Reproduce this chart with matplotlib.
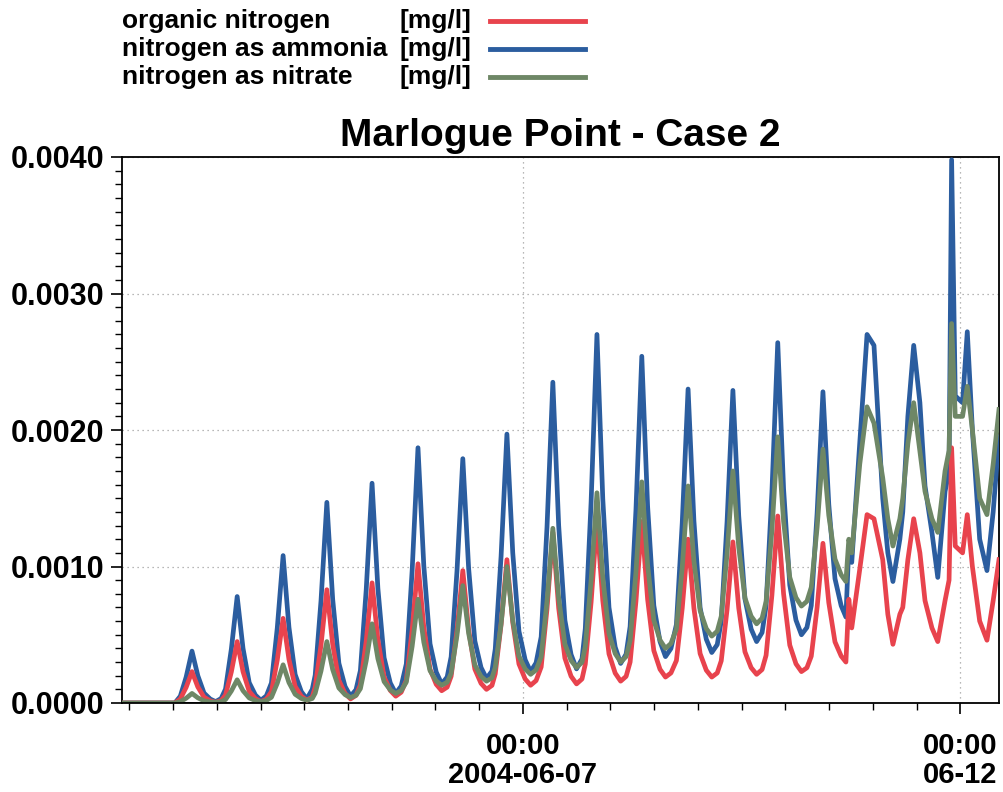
import numpy as np
import pandas as pd
import matplotlib
matplotlib.use("Agg")
import matplotlib.pyplot as plt
import matplotlib.dates as mdates
from matplotlib.lines import Line2D
from matplotlib.ticker import MultipleLocator, FormatStrFormatter

plt.rcParams['font.family'] = ['Liberation Sans', 'DejaVu Sans']
plt.rcParams['font.weight'] = 'bold'

# hours relative to 2004-06-07 00:00
hours = [
    -110, -95.5,
    -94.0, -92.4, -90.8, -89.2, -87.5, -85.8, -84.3, -82.8,
    -81.6, -80.0, -78.4, -76.8, -75.1, -73.4, -71.9, -70.4,
    -69.0, -67.4, -65.8, -64.2, -62.5, -60.8, -59.3, -57.8,
    -57.0, -55.4, -53.8, -52.2, -50.5, -48.8, -47.3, -45.8,
    -44.6, -43.0, -41.4, -39.8, -38.1, -36.4, -34.9, -33.4,
    -32.0, -30.4, -28.8, -27.2, -25.5, -23.8, -22.3, -20.8,
    -19.7, -18.1, -16.5, -14.9, -13.2, -11.5, -10.0, -8.5,
    -7.6, -6.0, -4.4, -2.8, -1.1, 0.6, 2.1, 3.6,
    5.0, 6.6, 8.2, 9.8, 11.5, 13.2, 14.7, 16.2,
    17.1, 18.7, 20.3, 21.9, 23.6, 25.3, 26.8, 28.3,
    29.4, 31.0, 32.6, 34.2, 35.9, 37.6, 39.1, 40.6,
    42.1, 43.7, 45.3, 46.9, 48.6, 50.3, 51.8, 53.3,
    54.4, 56.0, 57.6, 59.2, 60.9, 62.6, 64.1, 65.6,
    66.7, 68.3, 69.9, 71.5, 73.2, 74.9, 76.4, 77.9,
    79.1, 80.7, 82.3, 83.9, 85.6, 87.3, 88.6, 89.4, 90.2,
    92.4, 94.4, 96.3, 98.7, 100.1, 101.5,
    103.4, 104.2, 105.6, 107.2, 108.9, 110.3, 112.2, 113.8,
    115.8, 116.9, 117.6, 118.6, 120.6, 121.9, 123.3, 125.3, 127.3, 129.0, 130.6]

# concentrations in 1e-4 mg/l
ammonia = [
    0, 0,
    0.5, 1.9, 3.8, 2.0, 0.73, 0.29, 0.1, 0.33,
    1.02, 3.95, 7.8, 4.0, 1.49, 0.58, 0.2, 0.52,
    1.47, 5.5, 10.8, 5.55, 2.09, 0.83, 0.3, 1.0,
    2.03, 7.5, 14.7, 7.6, 2.91, 1.21, 0.5, 0.97,
    2.37, 8.3, 16.1, 8.4, 3.32, 1.47, 0.7, 1.24,
    2.86, 9.7, 18.7, 10.05, 4.34, 2.27, 1.4, 1.9,
    3.38, 9.65, 17.9, 9.85, 4.54, 2.6, 1.8, 2.34,
    3.95, 10.75, 19.7, 11.0, 5.26, 3.17, 2.3, 2.94,
    4.84, 12.9, 23.5, 13.0, 6.07, 3.55, 2.5, 3.23,
    5.44, 14.75, 27.0, 14.95, 7.0, 4.1, 2.9, 3.58,
    5.6, 14.15, 25.4, 14.4, 7.14, 4.5, 3.4, 3.99,
    5.75, 13.2, 23.0, 13.35, 6.98, 4.67, 3.7, 4.28,
    6.0, 13.3, 22.9, 13.7, 7.63, 5.42, 4.5, 5.16,
    7.13, 15.45, 26.4, 15.7, 8.64, 6.07, 5.0, 5.53,
    7.14, 13.9, 22.8, 14.55, 9.11, 7.13, 6.3, 11.5, 10.3,
    19.0, 27.0, 26.2, 15.0, 11.0, 8.9,
    12.0, 14.0, 21.0, 26.2, 22.0, 15.9, 12.5, 9.2,
    15.5, 17.0, 39.8, 22.5, 22.0, 27.2, 20.0, 12.0, 9.7, 14.0, 19.5]

nitrate = [
    0, 0,
    0.1, 0.35, 0.7, 0.38, 0.16, 0.08, 0.05, 0.1,
    0.25, 0.88, 1.7, 0.9, 0.37, 0.18, 0.1, 0.18,
    0.42, 1.45, 2.8, 1.5, 0.64, 0.33, 0.2, 0.33,
    0.72, 2.35, 4.5, 2.45, 1.1, 0.61, 0.4, 0.56,
    1.05, 3.1, 5.8, 3.25, 1.57, 0.96, 0.7, 0.91,
    1.53, 4.15, 7.6, 4.45, 2.37, 1.62, 1.3, 1.52,
    2.18, 4.95, 8.6, 5.1, 2.79, 1.95, 1.6, 1.85,
    2.61, 5.8, 10.0, 6.05, 3.44, 2.5, 2.1, 2.42,
    3.38, 7.45, 12.8, 7.7, 4.33, 3.11, 2.6, 2.98,
    4.14, 9.0, 15.4, 9.2, 5.11, 3.62, 3.0, 3.4,
    4.58, 9.6, 16.2, 10.1, 6.07, 4.61, 4.0, 4.36,
    5.43, 9.95, 15.9, 10.4, 6.77, 5.45, 4.9, 5.26,
    6.35, 10.95, 17.0, 11.4, 7.7, 6.36, 5.8, 6.21,
    7.44, 12.65, 19.5, 13.3, 9.21, 7.72, 7.1, 7.45,
    8.48, 12.85, 18.6, 13.75, 10.55, 9.39, 8.9, 12.0, 11.0,
    17.5, 21.7, 20.5, 16.5, 13.5, 11.5,
    13.5, 15.0, 19.0, 22.0, 18.4, 15.5, 13.5, 12.5,
    17.0, 18.5, 27.8, 21.0, 21.0, 23.2, 20.0, 15.0, 13.8, 17.5, 21.5]

organic = [
    0, 0,
    0.3, 1.15, 2.3, 1.18, 0.43, 0.16, 0.05, 0.18,
    0.58, 2.28, 4.5, 2.3, 0.85, 0.32, 0.1, 0.28,
    0.83, 3.15, 6.2, 3.2, 1.22, 0.5, 0.2, 0.44,
    1.17, 4.25, 8.3, 4.3, 1.66, 0.7, 0.3, 0.56,
    1.32, 4.55, 8.8, 4.65, 1.91, 0.92, 0.5, 0.79,
    1.66, 5.35, 10.2, 5.55, 2.48, 1.37, 0.9, 1.16,
    1.96, 5.3, 9.7, 5.35, 2.48, 1.44, 1.0, 1.29,
    2.14, 5.75, 10.5, 5.9, 2.86, 1.76, 1.3, 1.64,
    2.64, 6.9, 12.5, 6.95, 3.29, 1.96, 1.4, 1.76,
    2.84, 7.4, 13.4, 7.5, 3.6, 2.19, 1.6, 1.95,
    3.0, 7.45, 13.3, 7.6, 3.84, 2.47, 1.9, 2.2,
    3.11, 6.95, 12.0, 6.95, 3.62, 2.4, 1.9, 2.2,
    3.09, 6.85, 11.8, 6.95, 3.75, 2.59, 2.1, 2.45,
    3.49, 7.9, 13.7, 8.0, 4.24, 2.87, 2.3, 2.58,
    3.43, 7.0, 11.7, 7.35, 4.48, 3.44, 3.0, 7.6, 5.5,
    9.8, 13.8, 13.5, 10.5, 6.5, 4.3,
    6.5, 7.0, 10.5, 13.5, 11.0, 7.5, 5.5, 4.5,
    7.5, 9.0, 18.7, 11.5, 11.0, 13.8, 10.0, 6.0, 4.6, 7.5, 10.5]

# black series only visible at the start, sitting at zero
black_hours = [-110, -60]
black_vals = [0, 0]

labels = ["organic nitrogen", "nitrogen as ammonia", "nitrogen as nitrate"]
colors = ["#e8434d", "#2b5d9f", "#6e8766"]

t0 = pd.Timestamp("2004-06-07")
times = t0 + pd.to_timedelta(hours, unit="h")
btimes = t0 + pd.to_timedelta(black_hours, unit="h")
scale = 1e-4

fig = plt.figure(figsize=(10.04, 7.92), dpi=100)
ax = fig.add_axes([122 / 1004, 1 - 703 / 792, (999 - 122) / 1004, (703 - 157) / 792])

ax.plot(times, np.array(ammonia) * scale, color=colors[1], lw=3.4, zorder=3)
ax.plot(times, np.array(organic) * scale, color=colors[0], lw=3.4, zorder=4)
ax.plot(times, np.array(nitrate) * scale, color=colors[2], lw=3.4, zorder=5)
ax.plot(btimes, black_vals, color="black", lw=2, zorder=6)

ax.set_xlim(t0 + pd.Timedelta(hours=-110), t0 + pd.Timedelta(hours=130.6))
ax.set_ylim(0, 0.004)

ax.yaxis.set_major_locator(MultipleLocator(0.001))
ax.yaxis.set_minor_locator(MultipleLocator(0.0001))
ax.yaxis.set_major_formatter(FormatStrFormatter("%.4f"))

ax.xaxis.set_major_locator(mdates.DayLocator(bymonthday=[7, 12]))
ax.xaxis.set_minor_locator(mdates.HourLocator(byhour=[0, 12]))

def fmt_date(x, pos=None):
    d = mdates.num2date(x)
    if d.day == 7:
        return "00:00\n2004-06-07"
    return "00:00\n06-12"

ax.xaxis.set_major_formatter(plt.FuncFormatter(fmt_date))

ax.tick_params(axis="both", which="major", direction="out", length=8, width=1.2, pad=5)
ax.tick_params(axis="both", which="minor", direction="out", length=5, width=1.0)
ax.tick_params(axis="y", which="major", labelsize=22)
ax.tick_params(axis="x", which="major", labelsize=21, pad=13)
for lab in ax.get_xticklabels() + ax.get_yticklabels():
    lab.set_fontweight("bold")
    lab.set_linespacing(1.05)

ax.grid(True, which="major", color="#a0a0a0", linestyle=(0, (1, 3)), lw=0.9)
for s in ax.spines.values():
    s.set_linewidth(1.3)
    s.set_color("black")

ax.set_title("Marlogue Point - Case 2", fontsize=28, fontweight="bold", pad=8)

# legend rows at the top left
rows_y = [21, 49, 77]
for lab, col, yy in zip(labels, colors, rows_y):
    fy = 1 - yy / 792
    fig.text(122 / 1004, fy, lab, fontsize=19, fontweight="bold", va="center", ha="left")
    fig.text(400 / 1004, fy, "[mg/l]", fontsize=19, fontweight="bold", va="center", ha="left")
    fig.add_artist(Line2D([490 / 1004, 585 / 1004], [fy, fy], color=col, lw=3.5))

fig.savefig("out.png", dpi=100)
